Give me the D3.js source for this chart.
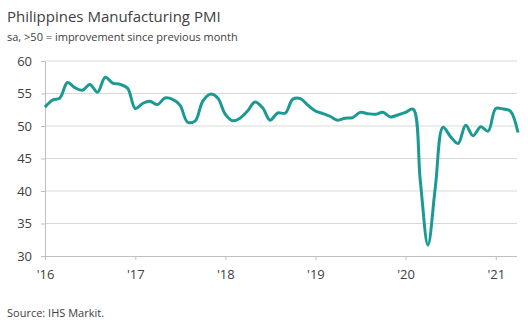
<!DOCTYPE html>
<html lang="en">
<head>
  <meta charset="utf-8">
  <title>Philippines Manufacturing PMI</title>
  <script src="https://d3js.org/d3.v7.min.js"></script>
  <style>
    body { margin: 0; background: #fff; }
    text { font-family: "Open Sans", sans-serif; }
  </style>
</head>
<body>
<script>
// monthly PMI, Jan 2016 - Apr 2021
var startMonth = new Date(2016, 0, 1);
var pmi = [
  52.9, 54.0, 54.3, 56.7, 55.9, 55.5, 56.4, 55.2, 57.5, 56.6, 56.4, 55.8,
  52.7, 53.5, 53.8, 53.3, 54.3, 54.1, 53.2, 50.6, 50.8, 53.8, 54.9, 54.3,
  51.8, 50.8, 51.2, 52.3, 53.7, 52.8, 50.9, 52.0, 52.0, 54.1, 54.2, 53.2,
  52.3, 51.9, 51.5, 50.9, 51.2, 51.3, 52.1, 51.9, 51.8, 52.1, 51.4, 51.7,
  52.1, 52.6, 41.6, 31.7, 40.6, 49.8, 48.4, 47.3, 50.1, 48.5, 49.9, 49.2,
  52.7, 52.6, 52.3, 49.0
];
var yTicks = [30, 35, 40, 45, 50, 55, 60];
var yearTicks = [2016, 2017, 2018, 2019, 2020, 2021];

var data = pmi.map(function(v, i) {
  return { date: new Date(2016, i, 1), value: v };
});

var w = 528, h = 329;
var plotLeft = 45, plotRight = 517, plotTop = 61, plotBottom = 256;

var svg = d3.select("body").append("svg")
  .attr("width", w)
  .attr("height", h);

var x = d3.scaleTime()
  .domain([startMonth, new Date(2021, 3, 1)])
  .range([plotLeft, 518]);

var y = d3.scaleLinear()
  .domain([30, 60])
  .range([plotBottom, plotTop]);

// gridlines
svg.selectAll("line.grid")
  .data(yTicks.slice(1))
  .enter()
  .append("line")
  .attr("class", "grid")
  .attr("x1", plotLeft)
  .attr("x2", plotRight)
  .attr("y1", function(d) { return y(d); })
  .attr("y2", function(d) { return y(d); })
  .attr("stroke", "#d9d9d9")
  .attr("stroke-width", 1);

// y axis
var yAxis = svg.append("g")
  .attr("transform", "translate(" + plotLeft + ",0)")
  .call(d3.axisLeft(y).tickValues(yTicks).tickSize(4).tickPadding(9));
yAxis.select(".domain").attr("stroke", "#bfbfbf");
yAxis.selectAll(".tick line").attr("stroke", "#bfbfbf");
yAxis.selectAll(".tick text")
  .attr("fill", "#404040")
  .style("font-size", "13px");

// x axis
var xAxis = svg.append("g")
  .attr("transform", "translate(0," + plotBottom + ")")
  .call(d3.axisBottom(x)
    .tickValues(yearTicks.map(function(yr) { return new Date(yr, 0, 1); }))
    .tickFormat(function(d) { return "'" + String(d.getFullYear()).slice(2); })
    .tickSize(4)
    .tickPadding(10)
    .tickSizeOuter(0));
xAxis.select(".domain").attr("stroke", "#bfbfbf").attr("d", "M" + plotLeft + ",0.5H" + plotRight);
xAxis.selectAll(".tick line").attr("stroke", "#bfbfbf");
xAxis.selectAll(".tick text")
  .attr("fill", "#404040")
  .style("font-size", "13px");

// the line
var line = d3.line()
  .x(function(d) { return x(d.date); })
  .y(function(d) { return y(d.value); })
  .curve(d3.curveCatmullRom.alpha(0.5));

svg.append("path")
  .datum(data)
  .attr("d", line)
  .attr("fill", "none")
  .attr("stroke", "#1b9a93")
  .attr("stroke-width", 3)
  .attr("stroke-linejoin", "round");

// titles
svg.append("text")
  .attr("x", 7)
  .attr("y", 22)
  .attr("fill", "#404040")
  .style("font-size", "15px")
  .text("Philippines Manufacturing PMI");

svg.append("text")
  .attr("x", 7)
  .attr("y", 41)
  .attr("fill", "#404040")
  .style("font-size", "11px")
  .text("sa, >50 = improvement since previous month");

svg.append("text")
  .attr("x", 7)
  .attr("y", 317)
  .attr("fill", "#404040")
  .style("font-size", "11px")
  .text("Source: IHS Markit.");
</script>
</body>
</html>
